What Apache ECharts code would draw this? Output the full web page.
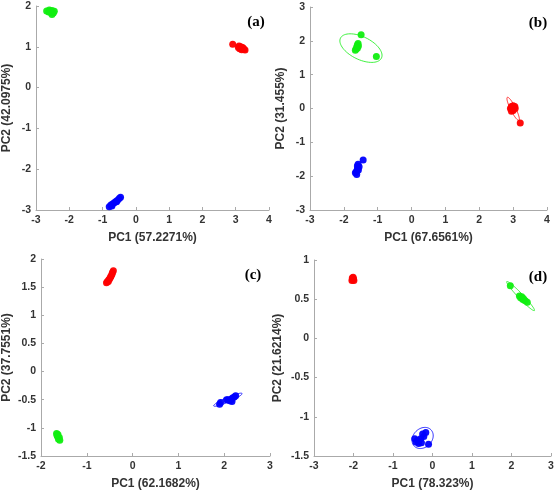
<!DOCTYPE html>
<html><head><meta charset="utf-8">
<script src="https://cdn.jsdelivr.net/npm/echarts@6/dist/echarts.min.js"></script>
<style>html,body{margin:0;padding:0;background:#fff}#c{width:558px;height:491px}</style>
</head><body><div id="c"></div>
<script>
// Panel titles
const panelLabels = ['(a)', '(b)', '(c)', '(d)'];
const xNames = ['PC1 (57.2271%)', 'PC1 (67.6561%)', 'PC1 (62.1682%)', 'PC1 (78.323%)'];
const yNames = ['PC2 (42.0975%)', 'PC2 (31.455%)', 'PC2 (37.7551%)', 'PC2 (21.6214%)'];
// axis ranges [min,max,step]
const xRanges = [[-3, 4, 1], [-3, 4, 1], [-2, 3, 1], [-3, 3, 1]];
const yRanges = [[-3, 2, 1], [-3, 3, 1], [-1.5, 2, 0.5], [-1.5, 1, 0.5]];

// (a)
const aGreen = [[-2.68,1.88],[-2.6,1.9],[-2.52,1.89],[-2.45,1.87],[-2.62,1.85],[-2.55,1.84],[-2.48,1.83],[-2.52,1.79],[-2.58,1.86]];
const aRed = [[2.91,1.06],[3.1,1.02],[3.15,1.0],[3.2,0.98],[3.12,0.95],[3.18,0.93],[3.25,0.94],[3.22,0.97],[3.08,0.98],[3.28,0.92]];
const aBlue = [[-0.8,-2.92],[-0.75,-2.88],[-0.7,-2.85],[-0.65,-2.82],[-0.6,-2.79],[-0.55,-2.76],[-0.5,-2.72],[-0.46,-2.69],[-0.72,-2.9],[-0.58,-2.8]];
// (b)
const bGreen = [[-1.49,2.18],[-1.04,1.54],[-1.58,1.92],[-1.6,1.88],[-1.62,1.82],[-1.64,1.76],[-1.66,1.72],[-1.57,1.85],[-1.6,1.78]];
const bRed = [[3.21,-0.43],[2.95,0.06],[3.0,0.08],[3.05,0.06],[2.92,0.0],[2.97,-0.02],[3.02,0.02],[3.0,-0.06],[2.95,-0.08],[3.06,0.0]];
const bBlue = [[-1.43,-1.52],[-1.58,-1.65],[-1.55,-1.72],[-1.6,-1.78],[-1.57,-1.82],[-1.63,-1.86],[-1.66,-1.9],[-1.62,-1.95],[-1.6,-1.7]];
// (c)
const cRed = [[-0.57,1.58],[-0.55,1.6],[-0.52,1.63],[-0.5,1.65],[-0.48,1.68],[-0.47,1.7],[-0.45,1.73],[-0.44,1.76],[-0.42,1.79],[-0.53,1.6]];
const cGreen = [[-1.66,-1.1],[-1.63,-1.12],[-1.64,-1.15],[-1.6,-1.17],[-1.62,-1.2],[-1.59,-1.22],[-1.65,-1.13]];
const cBlue = [[1.9,-0.58],[1.92,-0.55],[2.05,-0.5],[2.08,-0.5],[2.12,-0.52],[2.15,-0.5],[2.18,-0.47],[2.22,-0.45],[2.25,-0.43],[2.17,-0.53]];
// (d)
const dRed = [[-2.03,0.77],[-2.0,0.76],[-2.04,0.74],[-1.99,0.74],[-2.02,0.75],[-2.01,0.78]];
const dGreen = [[1.97,0.67],[2.2,0.54],[2.23,0.52],[2.26,0.53],[2.28,0.5],[2.32,0.49],[2.35,0.48],[2.4,0.46],[2.3,0.51]];
const dBlue = [[-0.17,-1.2],[-0.1,-1.35],[-0.22,-1.25],[-0.3,-1.28],[-0.38,-1.3],[-0.42,-1.32],[-0.35,-1.34],[-0.28,-1.33],[-0.25,-1.22],[-0.45,-1.28]];

// confidence ellipses: [cx, cy, endX, endY, minorRatio]
const bEllGreen = [-1.495, 1.785, -0.89, 1.49, 0.5];
const bEllRed = [3.0, -0.01, 3.17, -0.35, 0.2];
const cEllBlue = [2.08, -0.5, 2.39, -0.39, 0.15];
const dEllGreen = [2.23, 0.54, 2.58, 0.355, 0.12];
const dEllBlue = [-0.25, -1.27, -0.04, -1.165, 0.8];

const RED = '#ff0000', GREEN = '#11ee11', BLUE = '#0000ff';

const panels = [
  {pts: [[aGreen, GREEN], [aRed, RED], [aBlue, BLUE]], ells: []},
  {pts: [[bGreen, GREEN], [bRed, RED], [bBlue, BLUE]], ells: [[bEllGreen, GREEN], [bEllRed, RED]]},
  {pts: [[cRed, RED], [cGreen, GREEN], [cBlue, BLUE]], ells: [[cEllBlue, BLUE]]},
  {pts: [[dRed, RED], [dGreen, GREEN], [dBlue, BLUE]], ells: [[dEllGreen, GREEN], [dEllBlue, BLUE]]}
];

const grids = [
  {left: 32, top: 6, width: 237, height: 204},
  {left: 310, top: 7, width: 237, height: 203},
  {left: 32, top: 259, width: 238, height: 204},
  {left: 314, top: 260, width: 237, height: 204}
];
const yNameGaps = [23, 23, 28, 30];
const labelPos = [[256, 22], [538, 23], [253, 275], [538, 277]];

const axisLabelStyle = {color: '#333', fontWeight: 'bold', fontSize: 10.5, fontFamily: 'Arial, Liberation Sans, sans-serif'};
const nameStyle = {color: '#333', fontWeight: 'bold', fontSize: 12, fontFamily: 'Arial, Liberation Sans, sans-serif'};

const xAxis = [], yAxis = [], series = [], graphic = [];
panels.forEach((p, i) => {
  xAxis.push({
    type: 'value', gridIndex: i, min: xRanges[i][0], max: xRanges[i][1], interval: xRanges[i][2],
    name: xNames[i], nameLocation: 'middle', nameGap: 22, nameTextStyle: nameStyle,
    splitLine: {show: false},
    axisLine: {onZero: false, lineStyle: {color: '#aaa', width: 1}},
    axisTick: {inside: true, length: 3, lineStyle: {color: '#aaa'}},
    axisLabel: Object.assign({margin: 5}, axisLabelStyle)
  });
  yAxis.push({
    type: 'value', gridIndex: i, min: yRanges[i][0], max: yRanges[i][1], interval: yRanges[i][2],
    name: yNames[i], nameLocation: 'middle', nameGap: yNameGaps[i], nameTextStyle: nameStyle,
    splitLine: {show: false},
    axisLine: {show: true, onZero: false, lineStyle: {color: '#aaa', width: 1}},
    axisTick: {show: true, inside: true, length: 3, lineStyle: {color: '#aaa'}},
    axisLabel: Object.assign({margin: 5}, axisLabelStyle)
  });
  p.pts.forEach(([data, col]) => {
    series.push({
      type: 'scatter', xAxisIndex: i, yAxisIndex: i, data: data, symbolSize: 7,
      itemStyle: {color: col, opacity: 0.95}, silent: true, animation: false
    });
  });
  p.ells.forEach(([e, col]) => {
    series.push({
      type: 'custom', xAxisIndex: i, yAxisIndex: i, data: [e], animation: false, silent: true,
      encode: {x: [0, 2], y: [1, 3]},
      renderItem: function (params, api) {
        const c = api.coord([api.value(0), api.value(1)]);
        const en = api.coord([api.value(2), api.value(3)]);
        const r = api.value(4);
        const ax = en[0] - c[0], ay = en[1] - c[1];
        const bx = -ay * r, by = ax * r;
        const pts = [];
        for (let k = 0; k <= 72; k++) {
          const t = k / 72 * Math.PI * 2;
          pts.push([c[0] + ax * Math.cos(t) + bx * Math.sin(t), c[1] + ay * Math.cos(t) + by * Math.sin(t)]);
        }
        return {type: 'polyline', shape: {points: pts}, style: {fill: null, stroke: col, lineWidth: 1, opacity: 0.8}};
      }
    });
  });
  graphic.push({
    type: 'text', x: labelPos[i][0], y: labelPos[i][1],
    style: {text: panelLabels[i], font: 'bold 15px "Liberation Serif", "Times New Roman", serif', fill: '#000', align: 'center', verticalAlign: 'middle'}
  });
});

const chart = echarts.init(document.getElementById('c'));
chart.setOption({
  backgroundColor: '#fff',
  animation: false,
  grid: grids,
  xAxis: xAxis,
  yAxis: yAxis,
  series: series,
  graphic: graphic
});
</script>
</body></html>
